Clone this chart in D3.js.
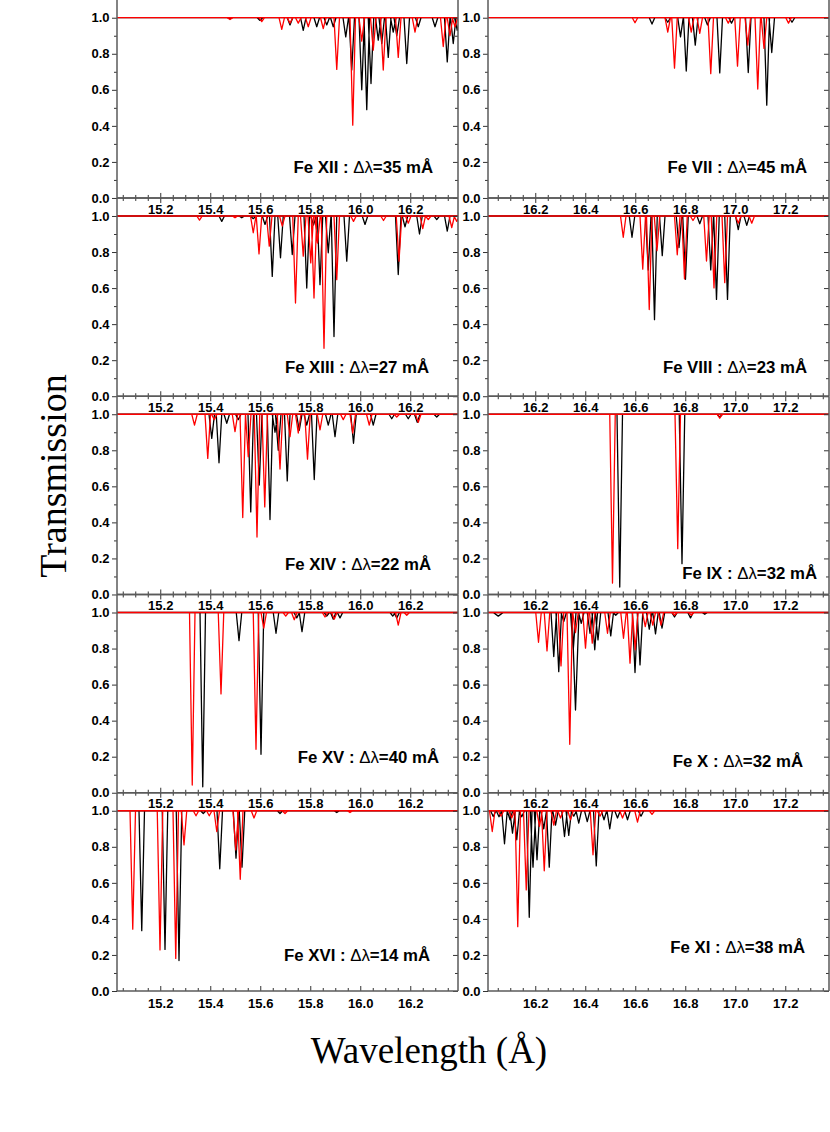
<!DOCTYPE html>
<html><head><meta charset="utf-8">
<script src="https://cdn.jsdelivr.net/npm/d3@7"></script>
<style>body{margin:0;background:#fff} svg{display:block}</style>
</head><body><svg id="c" width="830" height="1132"></svg>
<script>
// ---------------- DATA ----------------
const ionsLeft  = ["Fe XII","Fe XIII","Fe XIV","Fe XV","Fe XVI"];
const ionsRight = ["Fe VII","Fe VIII","Fe IX","Fe X","Fe XI"];
const deltaLeft  = [35,27,22,40,14];   // mÅ
const deltaRight = [45,23,32,32,38];   // mÅ
const leftTickLabels  = ["15.2","15.4","15.6","15.8","16.0","16.2"];
const rightTickLabels = ["16.2","16.4","16.6","16.8","17.0","17.2"];
const yTickLabels = ["0.0","0.2","0.4","0.6","0.8","1.0"];

// absorption dips: [wavelength (Å), minimum transmission, optional half-width (Å)]
const feXII_black = [[15.479,0.995],[15.599,0.985],[15.719,0.96],[15.772,0.93],[15.826,0.95],[15.866,0.96],[15.892,0.95],[15.942,0.894],[15.966,0.71],[16.006,0.60],[16.026,0.49],[16.043,0.635],[16.072,0.876],[16.086,0.857],[16.112,0.78],[16.132,0.92],[16.146,0.90],[16.186,0.746],[16.232,0.95],[16.299,0.95],[16.348,0.755],[16.372,0.857],[16.388,0.93]];
const feXII_red = [[15.479,0.99],[15.606,0.978],[15.686,0.935],[15.719,0.97],[15.752,0.97],[15.792,0.95],[15.852,0.94],[15.906,0.713],[15.97,0.404],[16.006,0.87],[16.052,0.82],[16.092,0.71],[16.152,0.78],[16.219,0.92],[16.332,0.84],[16.359,0.90],[16.379,0.95]];

const feXIII_black = [[15.446,0.97],[15.526,0.99],[15.572,0.985],[15.619,0.953],[15.648,0.665],[15.681,0.768],[15.728,0.786],[15.786,0.60],[15.813,0.95],[15.839,0.619],[15.872,0.796],[15.895,0.331],[15.946,0.749],[16.019,0.953],[16.152,0.675],[16.179,0.94],[16.237,0.90],[16.306,0.98],[16.348,0.916]];
const feXIII_red = [[15.357,0.977],[15.499,0.99],[15.572,0.907],[15.595,0.79],[15.636,0.833],[15.688,0.944],[15.741,0.517],[15.772,0.777],[15.802,0.74],[15.815,0.545],[15.829,0.85],[15.855,0.266],[15.906,0.647],[15.973,0.97],[16.093,0.975],[16.155,0.749],[16.192,0.96],[16.25,0.93],[16.272,0.98],[16.366,0.935],[16.386,0.97]];

const feXIV_black = [[15.406,0.866],[15.435,0.731],[15.466,0.95],[15.512,0.97],[15.562,0.458],[15.596,0.607],[15.639,0.416],[15.659,0.90],[15.672,0.80],[15.708,0.63],[15.756,0.91],[15.786,0.94],[15.816,0.638],[15.872,0.94],[15.899,0.876],[15.973,0.839],[16.052,0.94],[16.126,0.975],[16.192,0.975],[16.228,0.955],[16.306,0.985]];
const feXIV_red = [[15.337,0.94],[15.39,0.755],[15.416,0.97],[15.499,0.904],[15.53,0.427],[15.552,0.764],[15.587,0.319],[15.618,0.486],[15.679,0.696],[15.719,0.876],[15.752,0.896],[15.789,0.751],[15.839,0.913],[15.932,0.97],[15.97,0.896],[16.036,0.94],[16.146,0.985],[16.232,0.955]];

const feXV_black = [[15.37,0.033],[15.515,0.844],[15.603,0.213],[15.663,0.885],[15.746,0.97],[15.767,0.894],[15.866,0.98],[15.892,0.963],[15.919,0.97],[16.13,0.98],[16.146,0.97]];
const feXV_red = [[15.328,0.043],[15.443,0.548],[15.583,0.241],[15.614,0.913],[15.702,0.98],[15.736,0.96],[15.859,0.975],[15.896,0.963],[16.152,0.93],[16.186,0.985]];

const feXVI_black = [[15.126,0.335],[15.219,0.231],[15.275,0.169],[15.372,0.985],[15.438,0.678],[15.503,0.737],[15.527,0.687],[15.679,0.985],[15.906,0.99]];
const feXVI_red = [[15.09,0.343],[15.199,0.228],[15.262,0.181],[15.295,0.811],[15.343,0.972],[15.396,0.972],[15.426,0.885],[15.502,0.783],[15.52,0.62],[15.575,0.96],[15.699,0.985],[15.959,0.99]];

const feVII_black = [[16.667,0.965],[16.73,0.975],[16.781,0.894],[16.804,0.704],[16.84,0.848],[16.889,0.96],[16.938,0.694],[16.985,0.97],[17.052,0.696],[17.126,0.515],[17.146,0.807],[17.227,0.975]];
const feVII_red = [[16.599,0.972],[16.73,0.92],[16.757,0.72],[16.824,0.92],[16.858,0.913],[16.902,0.69],[16.972,0.97],[17.009,0.731],[17.05,0.848],[17.09,0.604],[17.115,0.83],[17.213,0.97]];

const feVIII_black = [[16.587,0.882],[16.652,0.70],[16.677,0.425],[16.708,0.78],[16.775,0.825],[16.801,0.649],[16.858,0.957],[16.902,0.701],[16.925,0.537],[16.969,0.537],[17.012,0.924],[17.046,0.948]];
const feVIII_red = [[16.552,0.882],[16.63,0.705],[16.656,0.481],[16.687,0.808],[16.768,0.785],[16.797,0.651],[16.831,0.975],[16.885,0.75],[16.915,0.601],[16.958,0.63],[17.012,0.96],[17.066,0.96]];

const feIX_black = [[16.538,0.041],[16.787,0.171],[16.938,0.985]];
const feIX_red = [[16.509,0.063],[16.77,0.254],[16.938,0.978]];

const feX_black = [[16.052,0.98,0.02],[16.274,0.756],[16.294,0.672],[16.314,0.95],[16.352,0.793],[16.361,0.459,0.014],[16.384,0.94],[16.419,0.885],[16.438,0.793],[16.451,0.848],[16.502,0.87],[16.522,0.985],[16.599,0.667],[16.619,0.709],[16.656,0.907],[16.681,0.881],[16.707,0.913],[16.757,0.975],[16.821,0.97],[16.878,0.99]];
const feX_red = [[16.213,0.835],[16.247,0.787],[16.303,0.704],[16.338,0.269],[16.361,0.889],[16.401,0.802],[16.428,0.83],[16.489,0.885],[16.553,0.857],[16.579,0.719],[16.6,0.793],[16.64,0.922],[16.67,0.93],[16.703,0.93],[16.757,0.985],[16.824,0.985]];

const feXI_black = [[16.032,0.968],[16.055,0.967],[16.077,0.817],[16.099,0.95],[16.109,0.876],[16.126,0.839],[16.146,0.967],[16.176,0.409],[16.191,0.687],[16.207,0.728],[16.234,0.90],[16.256,0.687],[16.281,0.92],[16.317,0.857],[16.334,0.863],[16.354,0.97],[16.374,0.931],[16.408,0.94],[16.444,0.694],[16.475,0.95],[16.498,0.90],[16.529,0.96],[16.569,0.95],[16.623,0.97]];
const feXI_red = [[16.028,0.885],[16.063,0.97],[16.106,0.96],[16.13,0.357],[16.164,0.561],[16.217,0.913],[16.236,0.667],[16.274,0.92],[16.301,0.96],[16.341,0.95],[16.431,0.756],[16.459,0.97],[16.549,0.96],[16.609,0.937],[16.667,0.98]];

const blackLeft  = [feXII_black, feXIII_black, feXIV_black, feXV_black, feXVI_black];
const redLeft    = [feXII_red, feXIII_red, feXIV_red, feXV_red, feXVI_red];
const blackRight = [feVII_black, feVIII_black, feIX_black, feX_black, feXI_black];
const redRight   = [feVII_red, feVIII_red, feIX_red, feX_red, feXI_red];

// ---------------- LAYOUT ----------------
const svg = d3.select("#c");
const panelTop0 = -0.3, panelH = 198.26;
const cols = [
  {x0:117, x1:458, domain:[15.027,16.391], labels:leftTickLabels, ions:ionsLeft, deltas:deltaLeft, black:blackLeft, red:redLeft,
   lab:[[433,25],[429,23],[431,24],[439,30],[430,30]]},
  {x0:488, x1:829, domain:[16.011,17.375], labels:rightTickLabels, ions:ionsRight, deltas:deltaRight, black:blackRight, red:redRight,
   lab:[[807,25],[807,23],[817,15],[803,26],[805,38]]}
];
const hwDefault = 0.011;
const tickFont = "'Liberation Sans', Arial, Helvetica, sans-serif";
const frameColor = "#5a5a5a";
const tickColor = "#333";

svg.append("rect").attr("width",830).attr("height",1132).attr("fill","#fff");
const defs = svg.append("defs");

function dipPath(x, y, dips, domain){
  const line = d3.line().x(d=>x(d[0])).y(d=>y(d[1]));
  let d = line([[domain[0],1],[domain[1],1]]);
  dips.forEach(p=>{
    const hw = p[2] || hwDefault;
    d += line([[p[0]-hw,1],[p[0],p[1]],[p[0]+hw,1]]);
  });
  return d;
}

const yMajor = [0,0.2,0.4,0.6,0.8,1.0];
const yMinor = [0.1,0.3,0.5,0.7,0.9];

cols.forEach((c,ci)=>{
  const x = d3.scaleLinear().domain(c.domain).range([c.x0,c.x1]);
  const xMajor = c.labels.map(Number);
  const xMinor = d3.range(Math.ceil(c.domain[0]/0.05)*0.05, c.domain[1], 0.05)
      .map(v=>+v.toFixed(2)).filter(v=>!xMajor.some(m=>Math.abs(m-v)<1e-6));
  for(let r=0;r<5;r++){
    const yTop = panelTop0 + r*panelH, yBot = yTop + panelH;
    const y = d3.scaleLinear().domain([0,1.1]).range([yBot,yTop]);
    const id = "clip"+ci+"_"+r;
    defs.append("clipPath").attr("id",id).append("rect")
      .attr("x",c.x0).attr("y",yTop).attr("width",c.x1-c.x0).attr("height",panelH);
    const g = svg.append("g").attr("clip-path",`url(#${id})`);
    g.append("path").attr("d",dipPath(x,y,c.black[r],c.domain))
      .attr("fill","none").attr("stroke","#000").attr("stroke-width",1.3).attr("stroke-linejoin","round");
    g.append("path").attr("d",dipPath(x,y,c.red[r],c.domain))
      .attr("fill","none").attr("stroke","#ff0000").attr("stroke-width",1.3).attr("stroke-linejoin","round");

    const ax = svg.append("g").attr("font-family",tickFont);
    ax.append("g").attr("transform",`translate(${c.x0},0)`)
      .call(d3.axisLeft(y).tickValues(yMajor).tickSize(5).tickPadding(2.5).tickFormat((d,i)=>yTickLabels[i]));
    ax.append("g").attr("transform",`translate(${c.x0},0)`)
      .call(d3.axisLeft(y).tickValues(yMinor).tickSize(3).tickFormat(""));
    ax.append("g").attr("transform",`translate(${c.x1},0)`)
      .call(d3.axisLeft(y).tickValues(yMajor).tickSize(5).tickFormat(""));
    ax.append("g").attr("transform",`translate(${c.x1},0)`)
      .call(d3.axisLeft(y).tickValues(yMinor).tickSize(3).tickFormat(""));
    ax.append("g").attr("transform",`translate(0,${yBot})`)
      .call(d3.axisTop(x).tickValues(xMajor).tickSize(5).tickFormat(""));
    ax.append("g").attr("transform",`translate(0,${yBot})`)
      .call(d3.axisTop(x).tickValues(xMinor).tickSize(3).tickFormat(""));
    if(r>0){
      ax.append("g").attr("transform",`translate(0,${yTop})`)
        .call(d3.axisBottom(x).tickValues(xMajor).tickSize(5).tickPadding(1.5).tickFormat((d,i)=>c.labels[i]));
      ax.append("g").attr("transform",`translate(0,${yTop})`)
        .call(d3.axisBottom(x).tickValues(xMinor).tickSize(3).tickFormat(""));
    }
    if(r===4){
      ax.append("g").attr("transform",`translate(0,${yBot})`)
        .call(d3.axisBottom(x).tickValues(xMajor).tickSize(0).tickPadding(8).tickFormat((d,i)=>c.labels[i]));
    }
    ax.selectAll(".domain").remove();
    ax.selectAll(".tick line").attr("stroke",tickColor).attr("stroke-width",1);
    ax.selectAll(".tick text").attr("fill","#000").attr("font-size",13).attr("font-weight","bold");

    // frame (no top edge on first row: it lies at the image border)
    const fr = svg.append("g").attr("stroke",frameColor).attr("stroke-width",1.5).attr("fill","none");
    fr.append("line").attr("x1",c.x0).attr("x2",c.x0).attr("y1",Math.max(yTop,0)).attr("y2",yBot);
    fr.append("line").attr("x1",c.x1).attr("x2",c.x1).attr("y1",Math.max(yTop,0)).attr("y2",yBot);
    fr.append("line").attr("x1",c.x0).attr("x2",c.x1).attr("y1",yBot).attr("y2",yBot);
    if(r>0) fr.append("line").attr("x1",c.x0).attr("x2",c.x1).attr("y1",yTop).attr("y2",yTop);

    const t = svg.append("text").attr("x",c.lab[r][0]).attr("y",yBot-c.lab[r][1])
      .attr("text-anchor","end").attr("font-family",tickFont).attr("font-weight","bold")
      .attr("font-size",16.8).attr("fill","#000");
    t.append("tspan").text(c.ions[r]+" : ");
    t.append("tspan").attr("font-weight","normal").text("\u0394\u03bb");
    t.append("tspan").text("="+c.deltas[r]+" m\u00c5");
  }
});

svg.append("text").attr("transform","translate(66,476) rotate(-90)")
  .attr("text-anchor","middle").attr("font-family","'Liberation Serif','Times New Roman',serif")
  .attr("font-size",38).attr("fill","#000").text("Transmission");
svg.append("text").attr("x",429).attr("y",1063)
  .attr("text-anchor","middle").attr("font-family","'Liberation Serif','Times New Roman',serif")
  .attr("font-size",37).attr("fill","#000").text("Wavelength (\u00c5)");
</script></body></html>
